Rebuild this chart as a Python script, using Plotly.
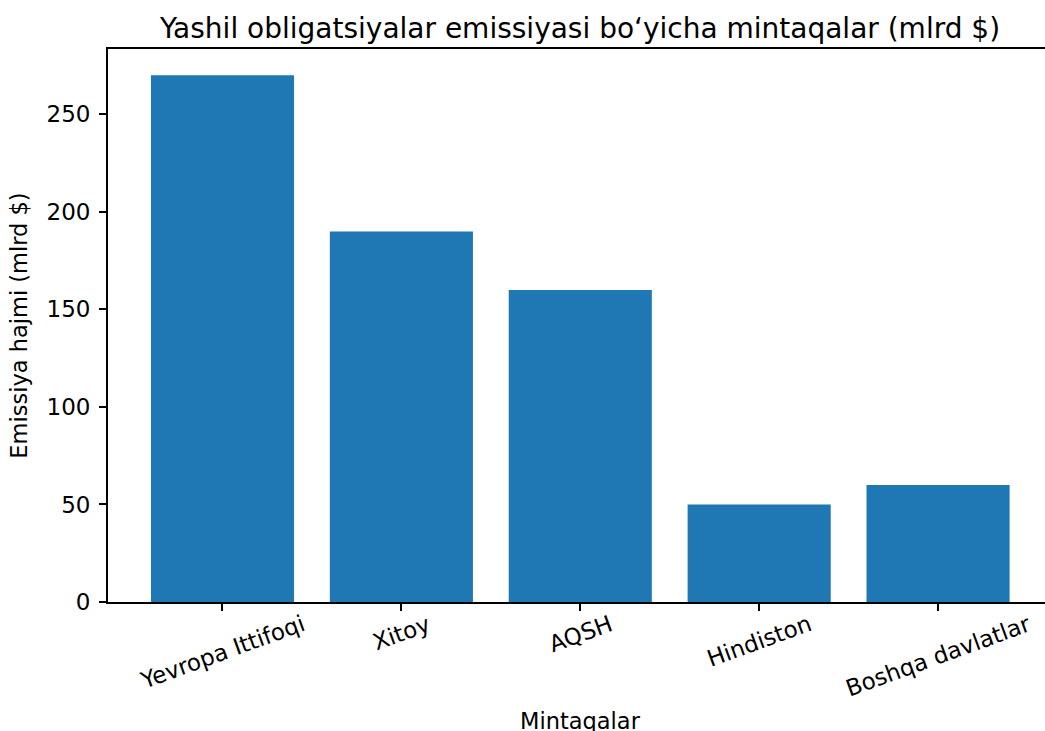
import plotly.graph_objects as go

categories = ["Yevropa Ittifoqi", "Xitoy", "AQSH", "Hindiston", "Boshqa davlatlar"]
values = [270, 190, 160, 50, 60]
y_ticks = [0, 50, 100, 150, 200, 250]

title_text = "Yashil obligatsiyalar emissiyasi bo\u2018yicha mintaqalar (mlrd $)"
x_title = "Mintaqalar"
y_title = "Emissiya hajmi (mlrd $)"

FONT = "DejaVu Sans"
W, H = 1045, 731
L, R, T, B = 108, 0, 49, 129
plot_h = H - T - B

fig = go.Figure()
fig.add_trace(go.Bar(x=categories, y=values, marker=dict(color="#1f77b4", line=dict(width=0)),
                     width=0.8))

annotations = []
for c in categories:
    annotations.append(dict(
        x=c, xref="x", y=-6 / plot_h, yref="paper",
        text=c, showarrow=False, textangle=-20,
        xanchor="center", yanchor="top",
        font=dict(family=FONT, size=23, color="#000000"),
    ))
annotations.append(dict(
    x=2, xref="x", y=-(721 - 602) / plot_h, yref="paper",
    text=x_title, showarrow=False, xanchor="center", yanchor="middle",
    font=dict(family=FONT, size=22.5, color="#000000"),
))

fig.update_layout(
    width=W, height=H,
    margin=dict(l=L, r=R, t=T, b=B, pad=0),
    paper_bgcolor="white", plot_bgcolor="white",
    showlegend=False,
    title=dict(text=title_text, x=(580) / W, xanchor="center", y=1 - 28 / H, yanchor="middle",
               font=dict(family=FONT, size=28, color="#000000")),
    xaxis=dict(
        type="category", range=[-0.64, (1045 - 222) / 179],
        showline=True, linecolor="#000000", linewidth=1.8, mirror=True,
        ticks="outside", ticklen=7, tickwidth=1.8, tickcolor="#000000",
        showticklabels=False, showgrid=False, zeroline=False,
    ),
    yaxis=dict(
        range=[0, 283.5], tickvals=y_ticks,
        showline=True, linecolor="#000000", linewidth=1.8, mirror=False,
        ticks="outside", ticklen=7, tickwidth=1.8, tickcolor="#000000",
        tickfont=dict(family=FONT, size=23, color="#000000"),
        ticklabelstandoff=4,
        showgrid=False, zeroline=False,
        title=dict(text=y_title, font=dict(family=FONT, size=22.5, color="#000000"), standoff=13),
    ),
    annotations=annotations,
)

fig.write_html("out.html", config={"displayModeBar": False},
               post_script="document.body.style.margin='0';document.body.style.padding='0';")
